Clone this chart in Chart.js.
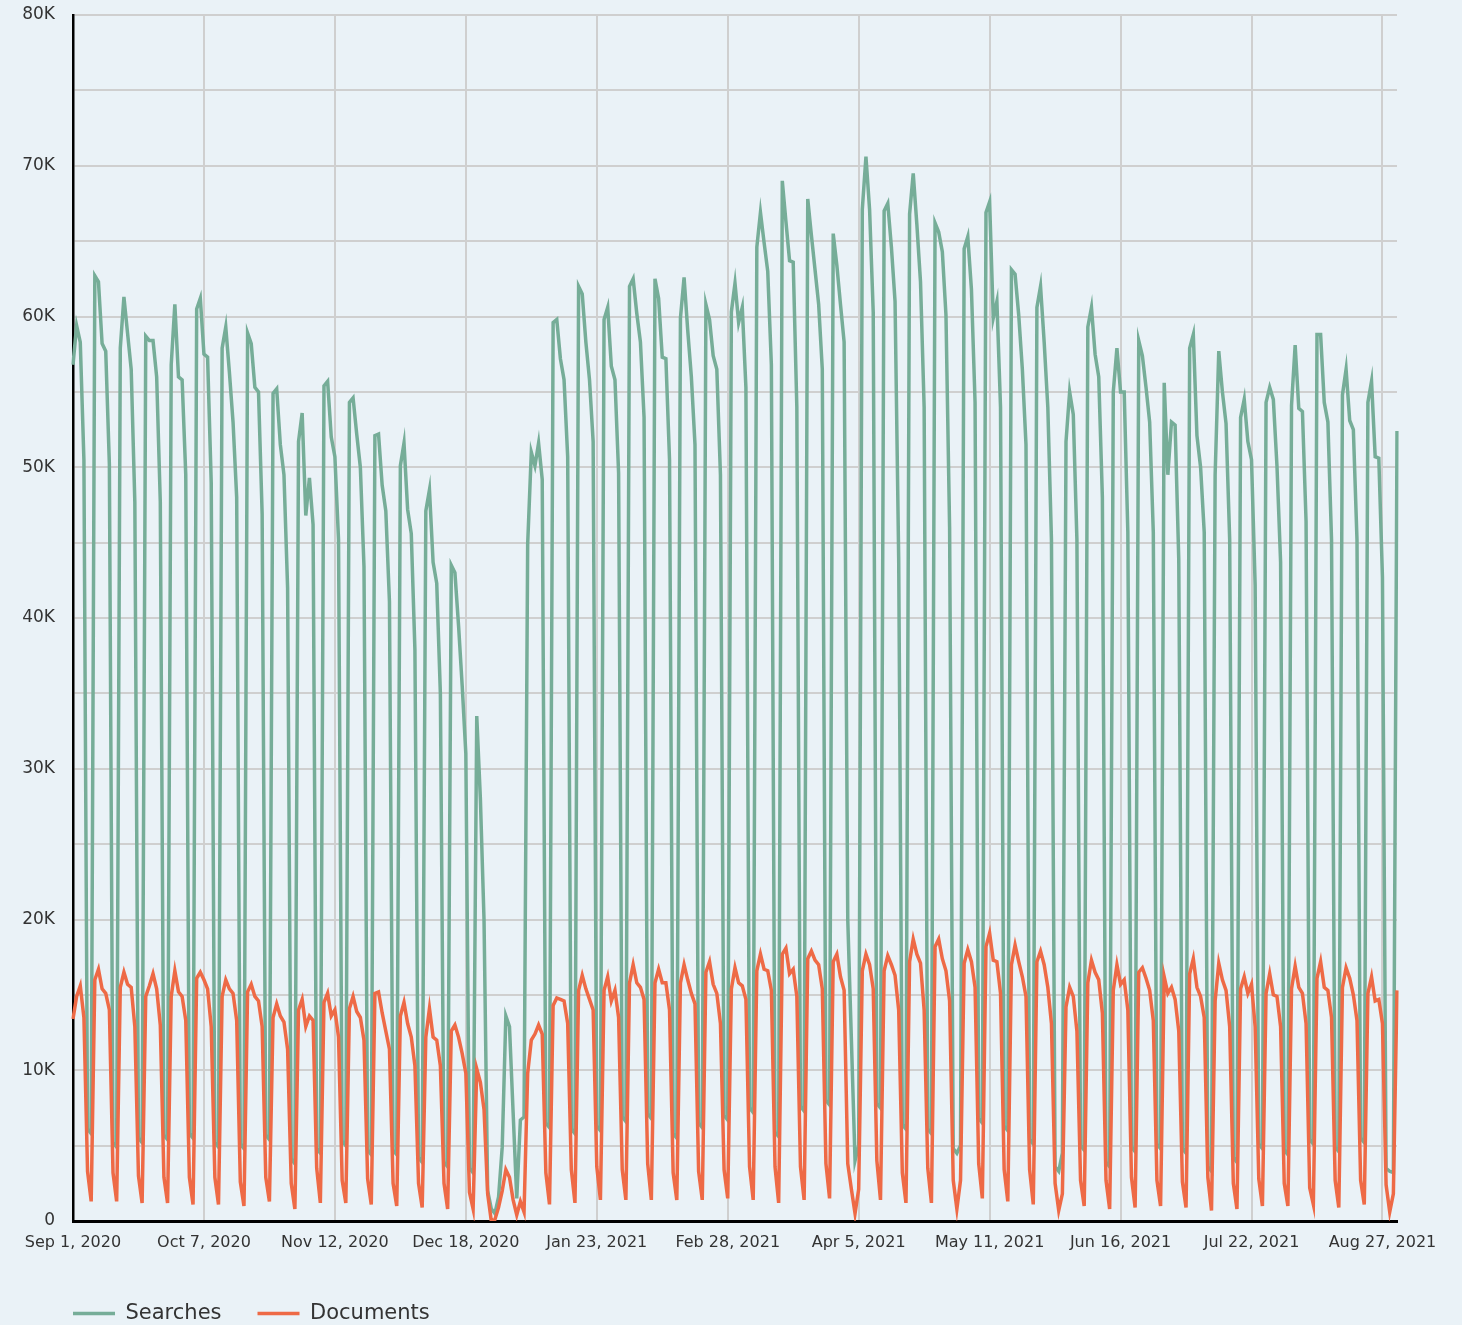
<!DOCTYPE html>
<html>
<head>
<meta charset="utf-8">
<script src="https://cdn.jsdelivr.net/npm/chart.js@4/dist/chart.umd.min.js"></script>
<style>
  html, body { margin: 0; padding: 0; background: #eaf2f7; }
  canvas { display: block; }
</style>
</head>
<body>
<canvas id="chart" width="1462" height="1325"></canvas>
<script>
// daily values in thousands, Tue Sep 1 2020 .. Tue Aug 31 2021
// one row per week (Mon..Sun), first row starts on Tue
const searches = [
  56.8, 59.4, 58.3, 50.5, 6.1, 5.8,
  62.7, 62.3, 58.2, 57.7, 50.2, 5.2, 4.9,
  57.9, 61.3, 58.9, 56.5, 47.7, 5.5, 5.2,
  58.7, 58.4, 58.4, 56.0, 47.7, 5.7, 5.4,
  56.8, 60.8, 56.0, 55.8, 49.5, 5.8, 5.5,
  60.5, 61.2, 57.5, 57.3, 49.0, 5.2, 4.9,
  57.9, 59.3, 56.3, 53.0, 48.0, 5.1, 4.8,
  58.9, 58.2, 55.3, 55.0, 46.9, 5.7, 5.4,
  54.9, 55.2, 51.5, 49.5, 42.0, 4.1, 3.8,
  51.7, 53.6, 46.8, 49.3, 46.2, 4.8, 4.5,
  55.4, 55.7, 52.0, 50.7, 45.2, 5.3, 5.0,
  54.3, 54.6, 52.2, 50.0, 43.4, 4.7, 4.4,
  52.1, 52.2, 48.8, 47.1, 41.1, 4.7, 4.4,
  50.1, 51.6, 47.2, 45.6, 37.9, 4.2, 3.9,
  47.1, 48.5, 43.7, 42.3, 35.0, 3.9, 3.6,
  43.5, 43.0, 39.5, 35.5, 31.0, 3.5, 3.2,
  33.5, 28.0, 20.0, 2.0, 0.8, 0.5, 1.6,
  4.9, 13.6, 12.9, 7.2, 1.5, 6.7, 6.9,
  44.9, 51.0, 50.1, 51.6, 49.2, 6.5, 6.2,
  59.6, 59.8, 57.2, 55.8, 50.7, 6.1, 5.8,
  62.0, 61.5, 58.3, 55.8, 51.7, 6.3, 6.0,
  59.8, 60.6, 56.7, 55.8, 49.6, 6.9, 6.6,
  62.0, 62.5, 60.2, 58.3, 53.3, 7.1, 6.8,
  62.5, 61.2, 57.3, 57.2, 50.5, 5.8, 5.5,
  59.9, 62.6, 59.1, 56.0, 51.5, 6.5, 6.2,
  60.8, 59.8, 57.4, 56.5, 49.5, 7.0, 6.7,
  60.3, 62.2, 59.6, 60.6, 55.3, 7.5, 7.2,
  64.6, 66.9, 64.9, 63.0, 56.8, 5.9, 5.6,
  69.0, 66.3, 63.7, 63.6, 54.0, 7.6, 7.3,
  67.8, 65.4, 63.1, 60.8, 56.5, 8.0, 7.7,
  65.5, 63.4, 60.8, 58.3, 20.0, 12.0, 4.0,
  5.0, 67.1, 70.6, 67.1, 60.3, 7.8, 7.5,
  67.0, 67.5, 64.6, 61.0, 44.0, 6.4, 6.1,
  66.8, 69.5, 66.1, 62.3, 54.0, 6.1, 5.8,
  66.2, 65.6, 64.3, 60.1, 46.0, 4.8, 4.5,
  5.0, 64.5, 65.3, 61.8, 54.3, 6.8, 6.5,
  66.9, 67.6, 59.9, 61.0, 54.0, 6.3, 6.0,
  63.1, 62.8, 60.1, 56.5, 51.5, 5.4, 5.1,
  60.6, 62.0, 58.3, 54.0, 45.2, 3.6, 3.3,
  4.5, 51.7, 55.0, 53.5, 45.2, 5.0, 4.7,
  59.3, 60.6, 57.5, 56.0, 48.0, 3.9, 3.6,
  55.0, 57.9, 55.0, 55.0, 45.7, 4.9, 4.6,
  58.4, 57.4, 55.3, 53.0, 45.7, 5.1, 4.8,
  55.6, 49.5, 53.0, 52.8, 43.9, 4.8, 4.5,
  57.9, 58.8, 52.1, 50.0, 45.7, 3.6, 3.3,
  49.5, 57.7, 55.0, 52.9, 45.2, 4.2, 3.9,
  53.3, 54.5, 51.7, 50.5, 42.2, 5.1, 4.8,
  54.3, 55.3, 54.5, 50.1, 43.7, 4.7, 4.4,
  54.1, 58.1, 53.9, 53.7, 46.4, 5.4, 5.1,
  58.8, 58.8, 54.3, 53.0, 45.2, 4.9, 4.6,
  54.8, 56.5, 53.1, 52.5, 45.2, 5.5, 5.2,
  54.3, 55.7, 50.7, 50.6, 42.7, 3.5, 3.3,
  3.2, 52.4
];

const documents = [
  13.4, 14.9, 15.6, 13.5, 3.3, 1.3,
  16.0, 16.7, 15.4, 15.1, 14.0, 3.2, 1.3,
  15.5, 16.5, 15.7, 15.5, 12.9, 3.0, 1.2,
  14.9, 15.6, 16.4, 15.4, 13.0, 2.9, 1.2,
  14.9, 16.6, 15.2, 14.9, 13.3, 2.9, 1.1,
  16.1, 16.5, 16.0, 15.4, 12.9, 2.9, 1.1,
  14.9, 16.0, 15.4, 15.1, 13.3, 2.6, 1.0,
  15.2, 15.7, 14.9, 14.6, 12.9, 2.9, 1.3,
  13.5, 14.4, 13.6, 13.2, 11.4, 2.5, 0.8,
  14.0, 14.7, 12.9, 13.6, 13.3, 3.5, 1.2,
  14.5, 15.1, 13.6, 14.0, 12.2, 2.7, 1.2,
  14.1, 14.9, 13.9, 13.5, 12.0, 2.8, 1.1,
  15.1, 15.2, 13.8, 12.6, 11.4, 2.5, 1.0,
  13.6, 14.5, 13.1, 12.2, 10.3, 2.5, 0.9,
  12.2, 14.1, 12.2, 12.0, 10.3, 2.5, 0.8,
  12.6, 13.0, 12.2, 11.1, 9.8, 1.9, 0.8,
  10.1, 9.2, 7.4, 1.8, 0.0, 0.1, 0.9,
  2.0, 3.4, 2.9, 1.4, 0.4, 1.3, 0.6,
  9.8, 12.0, 12.4, 13.0, 12.4, 3.2, 1.1,
  14.3, 14.8, 14.7, 14.6, 13.1, 3.4, 1.2,
  15.3, 16.3, 15.4, 14.7, 14.0, 3.6, 1.4,
  15.3, 16.2, 14.6, 15.3, 13.5, 3.4, 1.4,
  15.8, 17.0, 15.8, 15.5, 14.7, 3.8, 1.4,
  15.8, 16.7, 15.8, 15.8, 14.0, 3.2, 1.4,
  15.8, 17.0, 16.0, 15.1, 14.4, 3.3, 1.4,
  16.5, 17.2, 15.7, 15.1, 13.1, 3.4, 1.5,
  15.4, 16.8, 15.8, 15.6, 14.7, 3.6, 1.4,
  16.6, 17.7, 16.7, 16.6, 15.3, 3.6, 1.2,
  17.7, 18.1, 16.4, 16.7, 14.9, 3.6, 1.4,
  17.4, 17.9, 17.3, 17.0, 15.4, 3.8, 1.5,
  17.2, 17.7, 16.2, 15.3, 3.8, 2.1, 0.5,
  2.1, 16.6, 17.7, 17.0, 15.4, 4.0, 1.4,
  16.6, 17.6, 17.0, 16.3, 14.0, 3.2, 1.2,
  17.2, 18.7, 17.7, 17.1, 14.0, 3.5, 1.2,
  18.2, 18.7, 17.4, 16.6, 14.6, 2.7, 0.8,
  2.7, 17.1, 18.0, 17.2, 15.5, 3.8, 1.5,
  18.2, 19.1, 17.3, 17.2, 15.1, 3.4, 1.3,
  17.0, 18.3, 17.2, 16.2, 14.9, 3.4, 1.1,
  17.2, 17.9, 17.0, 15.5, 13.1, 2.5, 0.7,
  1.8, 14.2, 15.5, 14.9, 12.6, 2.7, 1.0,
  15.8, 17.3, 16.5, 16.0, 13.8, 2.7, 0.8,
  15.3, 17.0, 15.7, 16.0, 14.0, 2.9, 0.9,
  16.5, 16.8, 16.1, 15.3, 13.3, 2.7, 1.0,
  16.2, 15.1, 15.5, 14.7, 12.6, 2.6, 0.9,
  16.4, 17.4, 15.5, 14.9, 13.5, 2.9, 0.7,
  14.6, 17.1, 16.0, 15.3, 12.9, 2.5, 0.8,
  15.4, 16.2, 15.1, 15.7, 12.9, 2.8, 1.0,
  15.1, 16.4, 15.0, 14.9, 12.9, 2.5, 1.0,
  15.4, 16.9, 15.5, 15.1, 13.1, 2.2, 1.1,
  16.1, 17.2, 15.5, 15.3, 13.5, 2.7, 0.9,
  15.5, 16.8, 16.1, 15.0, 13.3, 2.7, 1.1,
  15.1, 16.2, 14.6, 14.7, 13.1, 2.4, 0.6,
  1.8, 15.3
];

const monthNames = ['Jan', 'Feb', 'Mar', 'Apr', 'May', 'Jun', 'Jul', 'Aug', 'Sep', 'Oct', 'Nov', 'Dec'];
const dates = [];
for (let i = 0; i < searches.length; i++) {
  const d = new Date(2020, 8, 1 + i);
  dates.push(monthNames[d.getMonth()] + ' ' + d.getDate() + ', ' + d.getFullYear());
}

const colors = {
  searches: '#76ad98',
  documents: '#ee6a46',
  grid: '#cfcfcf',
  text: '#333333'
};

Chart.defaults.font.family = "'DejaVu Sans', sans-serif";
Chart.defaults.color = colors.text;

// push the legend so its first line sample starts under the y axis
const legendShift = {
  id: 'legendShift',
  afterLayout(chart) {
    chart.legend.left = 37;
  }
};

new Chart(document.getElementById('chart'), {
  type: 'line',
  data: {
    labels: dates,
    datasets: [{
      label: 'Searches',
      data: searches,
      borderColor: colors.searches,
      backgroundColor: colors.searches,
      borderWidth: 3.5,
      pointRadius: 0,
      tension: 0,
      order: 1
    }, {
      label: 'Documents',
      data: documents,
      borderColor: colors.documents,
      backgroundColor: colors.documents,
      borderWidth: 3.5,
      pointRadius: 0,
      tension: 0,
      order: 0
    }]
  },
  plugins: [legendShift],
  options: {
    responsive: false,
    animation: false,
    layout: {
      padding: { left: 0, right: 65, top: 15, bottom: 0 }
    },
    plugins: {
      legend: {
        position: 'bottom',
        align: 'start',
        maxHeight: 58,
        labels: {
          boxWidth: 42,
          boxHeight: 0,
          padding: 36,
          font: { size: 21 },
          sort: (a, b) => a.datasetIndex - b.datasetIndex
        }
      },
      tooltip: { enabled: false }
    },
    scales: {
      x: {
        grid: { color: colors.grid, lineWidth: 2, drawTicks: false },
        border: { color: '#000000', width: 3 },
        ticks: {
          autoSkip: false,
          maxRotation: 0,
          minRotation: 0,
          padding: 12,
          font: { size: 16 },
          callback: function(value, index) {
            return index % 36 === 0 ? this.getLabelForValue(value) : null;
          }
        },
        afterFit: (scale) => { scale.height = 46; }
      },
      y: {
        min: 0,
        max: 80,
        grid: { color: colors.grid, lineWidth: 2, drawTicks: false },
        border: { color: '#000000', width: 2.5 },
        ticks: {
          stepSize: 5,
          padding: 18,
          font: { size: 17 },
          callback: function(value) {
            if (value % 10 !== 0) return '';
            return value === 0 ? '0' : value + 'K';
          }
        },
        afterFit: (scale) => {
          scale.width = 73;
          scale.paddingTop = 0;
          scale.paddingBottom = 0;
        }
      }
    }
  }
});
</script>
</body>
</html>
